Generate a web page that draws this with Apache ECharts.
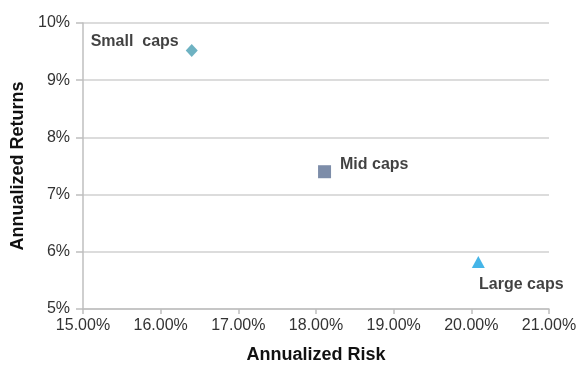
<html>
<head>
    <meta charset="utf-8">
    <script src="https://cdn.jsdelivr.net/npm/echarts@6/dist/echarts.min.js"></script>
</head>
<body style="margin:0">
    <div id="main" style="width:583px; height:369px"></div>
</body>
<script type="text/javascript">
    // values (percent)
    var names = ['Small caps', 'Mid caps', 'Large caps'];
    var risk = [16.40, 18.11, 20.09];
    var returns = [9.52, 7.40, 5.82];
    var xTicks = [15, 21, 1];   // min, max, step
    var yTicks = [5, 10, 1];

    var symbols = ['diamond', 'rect', 'triangle'];
    var sizes = [[12, 13], [13, 13], [13, 12]];
    var colors = ['#4a9fb3', '#5d7193', '#17a3e2'];
    var labelText = ['Small  caps', 'Mid caps', 'Large caps'];
    var labelPos = ['left', 'right', 'bottom'];
    var labelOff = [[-2, -9], [4, -7], [43, 3]];

    var myChart = echarts.init(document.getElementById('main'));
    var fontFam = 'Liberation Sans, Arial, sans-serif';

    var series = names.map(function (n, i) {
        return {
            name: n,
            type: 'scatter',
            symbol: symbols[i],
            symbolSize: sizes[i],
            itemStyle: { color: colors[i] },
            label: {
                show: true,
                formatter: labelText[i],
                position: labelPos[i],
                offset: labelOff[i],
                distance: 5,
                fontFamily: fontFam,
                fontWeight: 'bold',
                fontSize: 16,
                color: '#111'
            },
            data: [[risk[i], returns[i]]]
        };
    });

    var option = {
        animation: false,
        grid: { left: 83, right: 34, top: 23, bottom: 56, containLabel: false },
        xAxis: {
            type: 'value',
            min: xTicks[0], max: xTicks[1], interval: xTicks[2],
            name: 'Annualized Risk',
            nameLocation: 'middle',
            nameGap: 37,
            nameTextStyle: { fontFamily: fontFam, fontWeight: 'bold', fontSize: 18, color: '#111' },
            axisLine: { show: true, lineStyle: { color: '#bfbfbf', width: 1.5 } },
            axisTick: { show: true, length: 5, lineStyle: { color: '#bfbfbf', width: 1.5 } },
            axisLabel: {
                formatter: function (v) { return v.toFixed(2) + '%'; },
                fontFamily: fontFam, fontSize: 16, color: '#333', margin: 9
            },
            splitLine: { show: false }
        },
        yAxis: {
            type: 'value',
            min: yTicks[0], max: yTicks[1], interval: yTicks[2],
            name: 'Annualized Returns',
            nameLocation: 'middle',
            nameGap: 56,
            nameTextStyle: { fontFamily: fontFam, fontWeight: 'bold', fontSize: 18, color: '#111' },
            axisLine: { show: true, lineStyle: { color: '#bfbfbf', width: 1.5 } },
            axisTick: { show: true, length: 7, lineStyle: { color: '#bfbfbf', width: 1.5 } },
            axisLabel: {
                formatter: '{value}%',
                fontFamily: fontFam, fontSize: 16, color: '#333', margin: 13
            },
            splitLine: { show: true, lineStyle: { color: '#d0d0d0', width: 1.5 } }
        },
        series: series
    };

    myChart.setOption(option);
</script>
</html>
